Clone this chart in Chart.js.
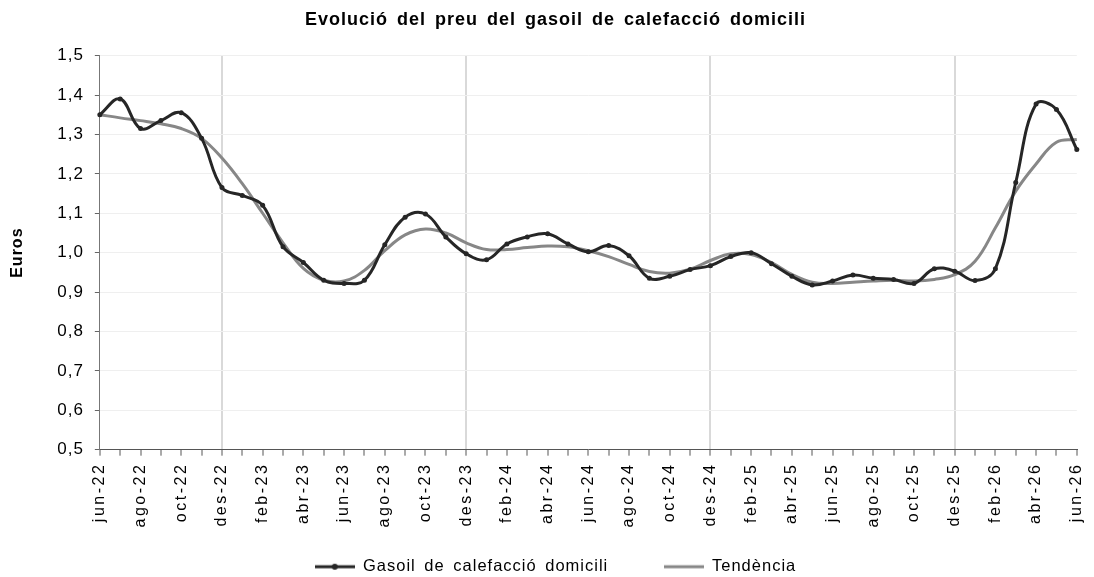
<!DOCTYPE html>
<html>
<head>
<meta charset="utf-8">
<script src="https://cdn.jsdelivr.net/npm/chart.js@4/dist/chart.umd.min.js"></script>
<style>
  html, body { margin: 0; padding: 0; background: #fff; overflow: hidden; }
  #wrap { width: 1103px; height: 577px; }
</style>
</head>
<body>
<div id="wrap"><canvas id="lineChart"></canvas></div>
<script>
var months = ['jun-22','jul-22','ago-22','set-22','oct-22','nov-22','des-22',
  'gen-23','feb-23','mar-23','abr-23','mai-23','jun-23','jul-23','ago-23','set-23','oct-23','nov-23','des-23',
  'gen-24','feb-24','mar-24','abr-24','mai-24','jun-24','jul-24','ago-24','set-24','oct-24','nov-24','des-24',
  'gen-25','feb-25','mar-25','abr-25','mai-25','jun-25','jul-25','ago-25','set-25','oct-25','nov-25','des-25',
  'gen-26','feb-26','mar-26','abr-26','mai-26','jun-26'];

var gasoil = [1.350, 1.390, 1.315, 1.335, 1.355, 1.290, 1.165,
  1.145, 1.120, 1.015, 0.975, 0.930, 0.922, 0.930, 1.020, 1.090, 1.098, 1.040, 0.997,
  0.982, 1.022, 1.040, 1.048, 1.022, 1.002, 1.018, 0.992, 0.935, 0.940, 0.957, 0.967,
  0.990, 1.000, 0.972, 0.940, 0.918, 0.928, 0.943, 0.935, 0.932, 0.922, 0.959, 0.953,
  0.929, 0.959, 1.178, 1.377, 1.363, 1.262];

var tendencia = [1.350, 1.342, 1.335, 1.327, 1.315, 1.290, 1.240,
  1.175, 1.100, 1.025, 0.960, 0.930, 0.928, 0.955, 1.005, 1.045, 1.060, 1.050, 1.025,
  1.008, 1.008, 1.013, 1.017, 1.015, 1.005, 0.990, 0.970, 0.952, 0.948, 0.958, 0.980,
  0.997, 0.995, 0.975, 0.945, 0.925, 0.922, 0.925, 0.928, 0.930, 0.928, 0.932, 0.944,
  0.978, 1.063, 1.156, 1.225, 1.280, 1.287];

var yTicks = [0.5, 0.6, 0.7, 0.8, 0.9, 1.0, 1.1, 1.2, 1.3, 1.4, 1.5];

Chart.defaults.font.family = 'Arial, "Liberation Sans", sans-serif';
Chart.defaults.color = '#000';

// small line samples for the legend
function legendLine(color, dot) {
  var c = document.createElement('canvas');
  c.width = 40; c.height = 8;
  var g = c.getContext('2d');
  g.fillStyle = color;
  g.fillRect(0, 2.5, 40, 3);
  if (dot) {
    g.beginPath();
    g.arc(20, 4, 3, 0, 2 * Math.PI);
    g.fill();
  }
  return c;
}
var lineGasoil = legendLine('#262626', true);
var lineTend = legendLine('#878787', false);

// the original text is set wider, the month labels a bit more
function withSpacing(fn, sp) {
  return function () {
    var c = this.ctx;
    var old = c.letterSpacing;
    c.letterSpacing = sp;
    var r = fn.apply(this, arguments);
    c.letterSpacing = old;
    return r;
  };
}
var spacing = {
  id: 'spacing',
  beforeUpdate: function (chart) {
    chart.ctx.letterSpacing = '1px';
    chart.ctx.wordSpacing = '3px';
    var x = chart.scales.x;
    if (x && !x._spaced) {
      x.update = withSpacing(x.update, '2.5px');
      x.drawLabels = withSpacing(x.drawLabels, '2.5px');
      x._spaced = true;
    }
  },
  beforeDraw: function (chart) {
    chart.ctx.letterSpacing = '1px';
    chart.ctx.wordSpacing = '3px';
  }
};

var ctx = document.getElementById('lineChart').getContext('2d');
var lineChart = new Chart(ctx, {
  type: 'line',
  data: {
    labels: months,
    datasets: [{
      label: 'Gasoil de calefacció domicili',
      data: gasoil,
      borderColor: '#262626',
      backgroundColor: '#262626',
      borderWidth: 3,
      pointRadius: 2.5,
      pointBackgroundColor: '#262626',
      pointBorderWidth: 0,
      tension: 0.4
    }, {
      label: 'Tendència',
      data: tendencia,
      borderColor: '#878787',
      backgroundColor: '#878787',
      borderWidth: 3,
      pointRadius: 0,
      tension: 0.4
    }]
  },
  plugins: [spacing],
  options: {
    responsive: true,
    maintainAspectRatio: false,
    animation: false,
    layout: { padding: { left: 8, right: 0, top: 0, bottom: -8 } },
    plugins: {
      title: {
        display: true,
        text: 'Evolució del preu del gasoil de calefacció domicili',
        font: { size: 18, weight: 'bold' },
        color: '#000',
        padding: { top: 9, bottom: 25 }
      },
      legend: {
        position: 'bottom',
        labels: {
          usePointStyle: true,
          pointStyleWidth: 40,
          padding: 4,
          font: { size: 16.5 },
          color: '#000',
          generateLabels: function (chart) {
            var items = Chart.defaults.plugins.legend.labels.generateLabels(chart);
            items[0].pointStyle = lineGasoil;
            items[0].text += '      ';
            items[1].pointStyle = lineTend;
            return items;
          }
        }
      },
      tooltip: { enabled: false }
    },
    scales: {
      x: {
        offset: false,
        title: { display: true, text: '', font: { size: 10 }, padding: { top: 0, bottom: 8 } },
        grid: {
          color: function (c) {
            return c.index % 12 === 6 ? '#d9d9d9' : 'rgba(0,0,0,0)';
          },
          lineWidth: 2,
          tickColor: '#555',
          tickWidth: 1,
          tickLength: 6,
          drawOnChartArea: true
        },
        border: { color: '#555', width: 1 },
        ticks: {
          autoSkip: false,
          minRotation: 90,
          maxRotation: 90,
          font: { size: 16 },
          color: '#000',
          padding: 7,
          callback: function (v, i) { return i % 2 === 0 ? months[i] : ''; }
        }
      },
      y: {
        min: yTicks[0],
        max: yTicks[yTicks.length - 1],
        title: {
          display: true,
          text: 'Euros',
          font: { size: 16, weight: 'bold' },
          color: '#000',
          padding: { top: 0, bottom: 19 }
        },
        grid: {
          color: '#efefef',
          lineWidth: 1,
          tickColor: '#666',
          tickLength: 5
        },
        border: { color: '#777', width: 1 },
        afterBuildTicks: function (scale) {
          scale.ticks = yTicks.map(function (v) { return { value: v }; });
        },
        ticks: {
          font: { size: 17 },
          color: '#000',
          padding: 11,
          callback: function (v) { return v.toFixed(1).replace('.', ','); }
        }
      }
    }
  }
});
</script>
</body>
</html>
